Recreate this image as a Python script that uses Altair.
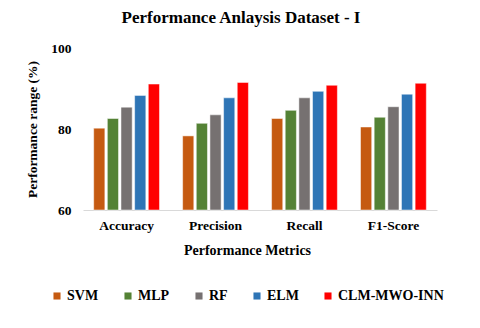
import altair as alt
import pandas as pd

metrics = ["Accuracy", "Precision", "Recall", "F1-Score"]
models = ["SVM", "MLP", "RF", "ELM", "CLM-MWO-INN"]
colors = ["#C55A11", "#548235", "#767171", "#2E75B6", "#FF0000"]
svm = [80.2, 78.3, 82.6, 80.5]
mlp = [82.6, 81.4, 84.6, 82.9]
rf = [85.4, 83.5, 87.7, 85.5]
elm = [88.3, 87.7, 89.3, 88.6]
clm = [91.1, 91.5, 90.8, 91.3]

series = [svm, mlp, rf, elm, clm]
rows = []
for m, vals in zip(models, series):
    for met, v in zip(metrics, vals):
        rows.append({"metric": met, "model": m, "value": v, "base": 60})
df = pd.DataFrame(rows)

font = "Liberation Serif"

chart = alt.Chart(df).mark_bar(stroke="white", strokeWidth=0.5).encode(
    x=alt.X("metric:N", sort=metrics, title="Performance Metrics",
            scale=alt.Scale(paddingInner=0.26, paddingOuter=0.12),
            axis=alt.Axis(labelAngle=0, labelFont=font, labelFontSize=13.5, labelFontWeight="bold",
                          labelColor="#000", labelPadding=8, ticks=False, grid=False,
                          domainColor="#d9d9d9",
                          titleFont=font, titleFontSize=14, titleFontWeight="bold", titleColor="#000",
                          titlePadding=12, titleX=164, titleAnchor="middle")),
    xOffset=alt.XOffset("model:N", sort=models, scale=alt.Scale(paddingInner=0.18)),
    y=alt.Y("value:Q", title="Performance range (%)",
            scale=alt.Scale(domain=[60, 100], nice=False, zero=False),
            axis=alt.Axis(values=[60, 80, 100], grid=False, domain=False, ticks=False,
                          labelFont=font, labelFontSize=13.5, labelFontWeight="bold", labelColor="#000",
                          labelPadding=12, titleFont=font, titleFontSize=13.5, titleFontWeight="bold",
                          titleColor="#000", titlePadding=11)),
    y2=alt.Y2("base:Q"),
    color=alt.Color("model:N", sort=models, scale=alt.Scale(domain=models, range=colors),
                    legend=alt.Legend(title=None, orient="none", direction="horizontal",
                                      legendX=-33, legendY=241, symbolType="square", symbolSize=50,
                                      symbolStrokeWidth=0, labelFont=font, labelFontSize=14,
                                      labelFontWeight="bold", labelColor="#000", columnPadding=22,
                                      labelOffset=3)),
).properties(
    width=354, height=162,
    background="white",
    title=alt.TitleParams("Performance Anlaysis Dataset - I", font=font, fontSize=17,
                          fontWeight="bold", color="#000", anchor="middle", dx=-19, offset=14),
    autosize=alt.AutoSizeParams(type="none"),
    padding={"left": 75, "top": 40, "right": 35, "bottom": 110},
).configure_view(strokeWidth=0, stroke="transparent").configure_axis(grid=False)

chart.save("out.html", embed_options={"renderer": "svg", "actions": False})
